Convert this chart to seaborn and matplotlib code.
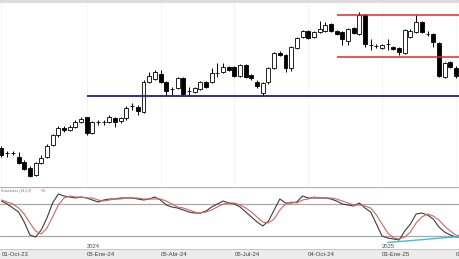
import numpy as np
import pandas as pd
import matplotlib
matplotlib.use("Agg")
import matplotlib.pyplot as plt
import seaborn as sns

sns.set_style("white")
plt.rcParams['font.family'] = ['Liberation Sans', 'DejaVu Sans']

# ---- weekly OHLC (arbitrary price units) ----
opens  = [42,37,37,33,28,22,15,27,33,45,55,62,60,63,68,73,57,68,68,68,72,69,72,84,83,78,
          108,111,116,108,101,102,112,99,98,101,108,108,117,118,123,123,114,125,115,108,97,
          108,122,137,135,122,142,153,159,153,158,159,166,159,158,149,162,156,175,145,144,
          142,146,143,142,137,153,158,168,156,156,147,113,128,122,114]
highs  = [44,39,39,38,30,24,28,35,46,56,64,64,65,70,73,73,69,70,70,75,73,73,84,87,85,110,
          118,120,120,109,103,113,113,103,103,109,109,122,127,127,124,124,126,126,116,110,108,
          123,138,139,136,144,153,160,160,159,169,168,167,160,159,162,163,178,176,151,146,
          146,151,144,143,161,161,175,169,159,157,148,128,129,124,116]
lows   = [33,33,35,26,20,13,14,26,32,44,53,58,59,62,67,55,56,65,65,67,63,67,70,80,75,77,
          107,110,107,94,95,101,94,94,97,100,102,107,113,117,119,113,113,112,110,102,94,
          106,121,134,118,119,141,152,151,152,157,158,158,155,145,145,156,155,143,140,142,
          141,140,140,135,136,152,157,157,154,143,113,112,122,112,103]
closes = [35,37,37,27,21,14,27,32,44,55,62,60,63,68,71,57,68,68,68,73,68,72,82,84,79,108,
          114,118,108,99,101,112,96,99,102,108,103,117,117,123,120,114,125,113,112,104,107,
          122,137,135,122,143,152,159,152,158,161,165,159,156,151,161,157,175,146,145,144,
          145,146,141,138,160,159,168,158,156,148,114,127,123,114,106]

# ---- slow stochastic (%K dark, %D red) ----
stoch_k = [85.6,80.0,72.5,65.0,46.3,21.9,18.1,31.3,53.8,81.9,98.8,95.0,93.1,91.3,93.1,91.3,
           87.5,83.8,87.5,89.4,89.4,91.3,91.3,91.3,89.4,87.5,89.4,93.1,87.5,78.1,74.4,72.5,
           68.8,65.0,63.1,63.1,66.9,74.4,80.0,85.6,81.9,80.0,74.4,65.0,55.6,46.3,38.8,48.1,
           68.8,89.4,81.9,81.9,83.8,95.0,91.3,91.3,91.3,91.3,89.4,85.6,80.0,78.1,76.3,81.9,
           72.5,65.0,42.5,20.0,16.3,14.4,12.5,29.4,42.5,61.3,63.1,59.4,51.9,36.9,27.5,21.9,
           18.1,18.1]
stoch_d = [87.5,83.8,80.0,72.5,61.3,44.4,29.4,23.8,35.0,55.6,78.1,91.3,95.0,93.1,93.1,91.3,
           91.3,87.5,85.6,87.5,89.4,89.4,91.3,91.3,91.3,89.4,89.4,89.4,89.4,85.6,80.0,74.4,
           72.5,68.8,65.0,63.1,65.0,68.8,74.4,80.0,81.9,81.9,78.1,72.5,65.0,55.6,46.3,44.4,
           51.9,68.8,80.0,83.8,81.9,87.5,89.4,93.1,91.3,91.3,91.3,89.4,85.6,81.9,78.1,78.1,
           76.3,72.5,59.4,42.5,25.6,16.3,14.4,18.1,27.5,44.4,55.6,61.3,57.5,50.0,38.8,29.4,
           21.9,20.0]
stoch_levels = [80, 20]

# ---- drawn lines ----
support_level = 94
support_start = 15
range_top = 175.3
range_bottom = 133.5
range_start = 59
divergence_x = [68, 80.7]
divergence_y = [7.8, 19.1]

# ---- date axis ----
tick_pos = [0, 15, 28, 41, 54, 67, 80]
tick_labels = ["01-Oct-23", "05-Ene-24", "05-Abr-24", "05-Jul-24", "04-Oct-24", "03-Ene-25", "04-Abr-25"]
year_pos = [15, 67]
year_labels = ["2024", "2025"]

n = len(closes)
idx = np.arange(n)
df = pd.DataFrame({"i": idx, "open": opens, "high": highs, "low": lows, "close": closes})
sdf = pd.DataFrame({"i": np.concatenate([idx, idx]),
                    "v": stoch_k + stoch_d,
                    "s": ["K"] * n + ["D"] * n})

W, H = 460, 259
fig = plt.figure(figsize=(W / 100, H / 100), dpi=100)
def frac(y0, y1):
    return [0, (H - y1) / H, 1, (y1 - y0) / H]

ax = fig.add_axes(frac(3, 187))
ax2 = fig.add_axes(frac(187, 249))
axd = fig.add_axes(frac(249, 259))
axt = fig.add_axes(frac(0, 3))

XL = (-0.264, 80.72)

# candles
up = df["close"] >= df["open"]
ax.vlines(df["i"], df["low"], df["high"], color="black", lw=0.7, zorder=2)
body_bot = np.minimum(df["open"], df["close"])
body_h = np.abs(df["close"] - df["open"])
colors = np.where(up, "white", "black")
ax.bar(df["i"], body_h, bottom=body_bot, width=0.7, color=colors,
       edgecolor="black", linewidth=0.6, zorder=3)

ax.hlines(support_level, support_start, XL[1] + 1, color="#1c1c9c", lw=1.3, zorder=4)
ax.hlines([range_top, range_bottom], range_start, XL[1] + 1, color="#e02828", lw=1.1, zorder=4)

ax.set_ylim(3, 187)
for a in (ax, ax2, axd, axt):
    a.set_xticks([])
    a.set_yticks([])
    for s in a.spines.values():
        s.set_visible(False)
ax.set_xlim(*XL)
for p in tick_pos:
    ax.axvline(p, color="#f4f4f4", lw=0.6, zorder=0)

# stochastic panel
sns.lineplot(data=sdf, x="i", y="v", hue="s", palette={"K": "#3c3c3c", "D": "#d46464"},
             ax=ax2, legend=False, linewidth=0.8, zorder=3)
for lv in stoch_levels:
    ax2.axhline(lv, color="#a8a8a8", lw=0.9, zorder=1)
ax2.plot(divergence_x, divergence_y, color="#3cc0d8", lw=1.0, zorder=4)
ax2.axhline(111.5, color="#b0b0b0", lw=0.9)
ax2.set_xlim(*XL)
ax2.set_ylim(-4.4, 111.9)
ax2.set_xlabel("")
ax2.set_ylabel("")
ax2.text(0.0, 109.0, "Estocástico (14,3,3)", fontsize=2.4, color="#707070",
         va="top", ha="left")
ax2.text(7.0, 109.0, "%D", fontsize=2.4, color="#d46464", va="top", ha="left")
for p, t in zip(year_pos, year_labels):
    ax2.text(p, -0.5, t, fontsize=4.2, color="#505050", ha="left", va="center")

# date band
axd.set_facecolor("#ececec")
axd.set_xlim(*XL)
axd.set_ylim(0, 1)
axd.axhline(1, color="#c8c8c8", lw=0.8)
for p, t in zip(tick_pos, tick_labels):
    axd.text(p, 0.45, t, fontsize=4.3, color="#404040", ha="left", va="center")

# top strip
axt.set_facecolor("#dcdcdc")

fig.savefig("out.png", dpi=100)
